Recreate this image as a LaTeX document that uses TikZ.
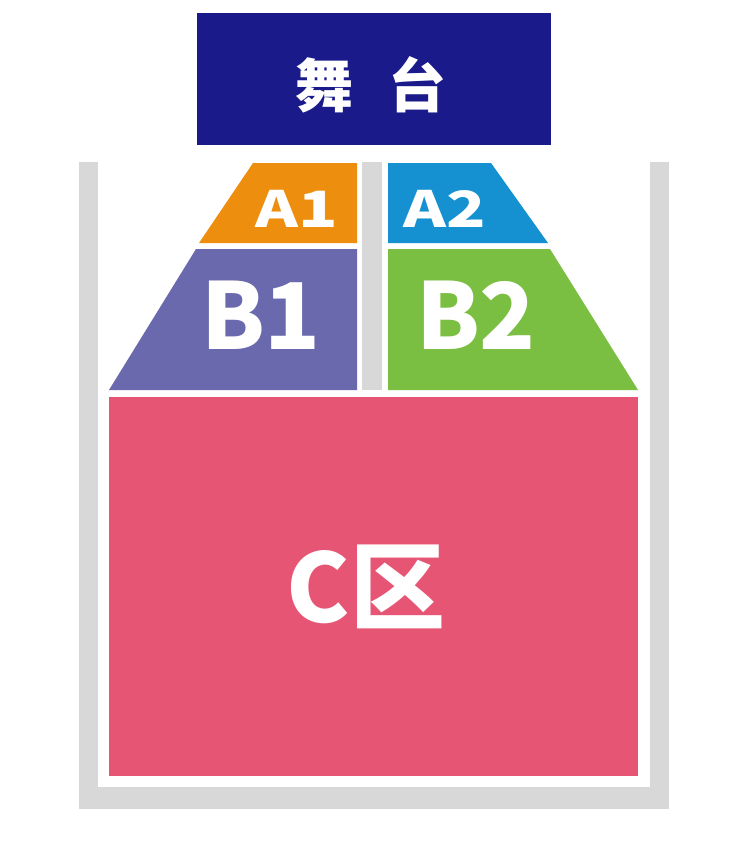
\documentclass[tikz,border=0pt]{standalone}
\usepackage{fontspec}
\newfontfamily\cjk{Noto Sans CJK SC}
\definecolor{stageblue}{HTML}{1A1A8A}
\definecolor{aorange}{HTML}{EE8E0E}
\definecolor{ablue}{HTML}{1590D0}
\definecolor{bpurple}{HTML}{6A69AD}
\definecolor{bgreen}{HTML}{7BBF42}
\definecolor{cpink}{HTML}{E75574}
\definecolor{framegray}{HTML}{D8D8D8}
\tikzset{
  lbl/.style={text=white, font=\cjk\bfseries, inner sep=0pt, anchor=center},
}
\begin{document}
\begin{tikzpicture}[x=1pt,y=-1pt]
\useasboundingbox[fill=white] (0,0) rectangle (728,864);
% stage
\fill[stageblue] (197,13) rectangle (551,145);
% frame
\fill[framegray] (79,162) rectangle (669,809);
\fill[white] (97.5,162) rectangle (650,787);
\fill[framegray] (362,162) rectangle (382,390);
% sections
\fill[aorange] (253,163) -- (357,163) -- (357,243) -- (199,243) -- cycle;
\fill[ablue] (388,163) -- (491,163) -- (548,243) -- (388,243) -- cycle;
\fill[bpurple] (196,249) -- (357,249) -- (357,390) -- (109,390) -- cycle;
\fill[bgreen] (388,249) -- (550,249) -- (638,390) -- (388,390) -- cycle;
\fill[cpink] (109,397) rectangle (638,776);
% labels
\node[lbl, font=\cjk\bfseries\fontsize{58}{58}\selectfont] (stage) at (371,85) {舞\hspace{0.6em}台};
\node[lbl, xscale=1.3, font=\cjk\bfseries\fontsize{50}{50}\selectfont] (a1) at (297,209) {A1};
\node[lbl, xscale=1.3, font=\cjk\bfseries\fontsize{50}{50}\selectfont] (a2) at (445,209) {A2};
\node[lbl, font=\cjk\bfseries\fontsize{92}{92}\selectfont] (b1) at (261,315) {B1};
\node[lbl, font=\cjk\bfseries\fontsize{92}{92}\selectfont] (b2) at (476,315) {B2};
\node[lbl, font=\cjk\bfseries\fontsize{95}{95}\selectfont] (c) at (366,587) {C区};
\end{tikzpicture}
\end{document}
